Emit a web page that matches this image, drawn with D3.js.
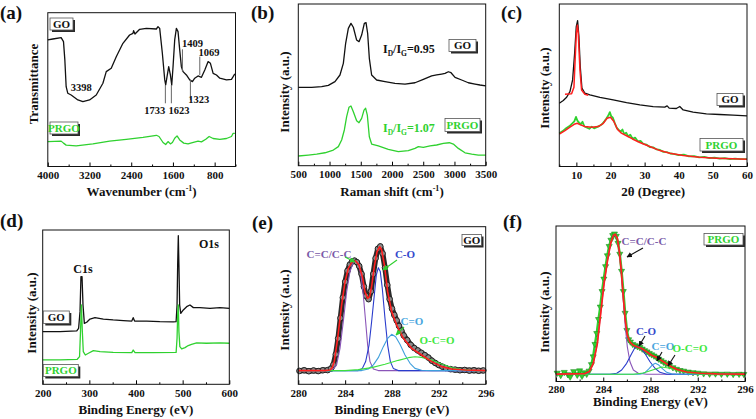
<!DOCTYPE html>
<html>
<head>
<meta charset="utf-8">
<script src="https://cdn.jsdelivr.net/npm/d3@7"></script>
<style>
  body { margin: 0; background: #fff; }
  svg text { font-family: "Liberation Serif", "Times New Roman", serif; font-weight: bold; fill: #111; }
</style>
</head>
<body>
<svg width="756" height="419"></svg>
<script>
// ---------- data (y is relative intensity 0-100 of each box) ----------
// (a) FTIR
const ftirGO = [[4000,82.3],[3904,82.9],[3744,83.8],[3699,81.2],[3673,69.3],[3648,51.9],[3616,47.6],[3552,46.5],[3423,43.3],[3327,42.2],[3199,43.3],[3071,46.5],[2943,54.1],[2879,61.7],[2783,63.9],[2687,71.4],[2559,80.1],[2431,85.5],[2367,86.6],[2354,88.3],[2328,86.1],[2238,89.2],[2110,89.8],[1918,89.4],[1886,90.9],[1854,89.8],[1803,73.6],[1757,56.3],[1739,53.0],[1713,58.4],[1681,64.9],[1649,59.5],[1623,53.0],[1598,64.9],[1566,82.3],[1534,89.8],[1502,87.7],[1470,75.8],[1438,64.9],[1406,61.7],[1342,59.5],[1278,56.3],[1226,55.2],[1182,57.4],[1118,58.9],[1053,58.0],[989,62.8],[925,68.2],[881,67.1],[829,60.6],[765,59.5],[701,57.4],[573,56.3],[477,56.7],[445,58.4],[413,60.2]];
const ftirPRGO = [[4000,16.2],[3744,16.5],[3699,15.2],[3648,13.9],[3456,13.4],[3135,14.7],[2815,16.5],[2495,17.7],[2174,19.0],[1918,20.3],[1867,19.5],[1790,15.6],[1739,14.3],[1694,16.2],[1649,14.7],[1610,15.6],[1566,18.4],[1521,19.9],[1470,17.3],[1393,15.2],[1310,14.7],[1226,15.6],[1118,16.5],[1053,16.0],[970,17.7],[906,19.5],[829,18.2],[701,17.7],[573,18.2],[477,19.5],[445,21.6],[413,21.6]];
// peak marks: label, line position, line top, line bottom, label position, label height
const ftirMarks = [["1733",1745,53.0,41.1,1950,36.8],["1623",1630,53.0,41.1,1483,36.8],["1323",1265,56.3,43.3,1105,43.7],["1409",1418,76.2,61.7,1226,80.1],["1069",1085,71.4,59.5,906,74.2]];
const ftirBand = ["3398",3359,51.5];

// (b) Raman
const ramanGO = [[500,48.5],[714,48.5],[874,48.9],[981,49.7],[1087,52.0],[1167,56.1],[1221,63.3],[1258,75.7],[1301,84.9],[1343,88.0],[1381,85.6],[1434,77.7],[1472,76.7],[1514,80.8],[1557,88.0],[1584,88.5],[1610,81.9],[1637,66.4],[1674,56.1],[1754,53.0],[1888,52.0],[2048,50.9],[2208,50.5],[2368,51.3],[2502,53.4],[2635,55.5],[2715,56.1],[2795,56.7],[2849,57.1],[2902,58.1],[2945,57.5],[3009,54.6],[3115,53.0],[3222,51.3],[3329,50.5],[3409,49.9],[3500,49.3]];
const ramanPRGO = [[500,6.0],[660,6.6],[794,7.2],[927,8.0],[1061,9.7],[1141,11.8],[1194,15.9],[1237,22.1],[1274,30.3],[1311,36.1],[1343,36.9],[1381,33.4],[1434,27.8],[1472,26.6],[1514,29.3],[1552,34.4],[1578,35.5],[1605,31.3],[1637,17.9],[1674,13.4],[1781,12.2],[1941,10.1],[2101,8.7],[2261,9.3],[2368,10.7],[2422,11.8],[2502,11.3],[2609,12.2],[2715,12.8],[2822,13.8],[2918,14.2],[2982,13.4],[3062,10.7],[3169,8.0],[3276,7.2],[3383,6.6],[3500,6.6]];
const ratioGO = "0.95", ratioPRGO = "1.07";

// (c) XRD
const xrdGO = [[5,38.9],[6.17,40.6],[7.15,42.6],[8.12,46.1],[8.9,53.3],[9.49,69.7],[9.97,86.1],[10.36,89.8],[10.75,79.9],[11.14,61.5],[11.63,48.2],[12.51,45.1],[13.97,44.1],[16.9,42.6],[20.8,41.0],[24.7,39.3],[28.6,37.9],[32.5,36.9],[35.9,36.5],[36.6,37.3],[37.2,35.9],[39.3,35.7],[40.3,36.9],[41.3,34.8],[44.2,33.4],[48.1,32.4],[52.0,32.0],[55.9,31.6],[60,31.1]];
const xrdGOfit = [[6.66,44.5],[8.6,44.7],[9.29,48.8],[9.68,67.6],[10.0,82],[10.3,87],[10.56,82.0],[11.05,59.4],[11.53,47.1],[12.5,44.5],[13.5,43.9]];
const xrdPRGO = [[5,20.5],[6,21.8],[7,23.5],[8,24.9],[8.8,26.5],[9.4,27.8],[9.9,30.5],[10.3,28.2],[10.8,27.0],[11.3,26.0],[11.8,27.5],[12.3,24.8],[13,24.0],[13.8,23.2],[14.5,24.5],[15.2,23.5],[16,24.2],[16.8,25.0],[17.5,26.0],[18.2,27.8],[18.8,29.5],[19.4,31.5],[19.8,33.5],[20.2,31.0],[20.7,30.0],[21.2,27.0],[21.8,24.0],[22.4,22.5],[23,21.5],[23.5,22.8],[24,20.0],[24.6,20.8],[25.2,18.5],[25.8,19.5],[26.5,17.0],[27.2,17.8],[28,15.5],[28.8,15.8],[29.6,14.0],[30.5,13.5],[31.5,12.0],[32.5,11.8],[33.5,10.5],[34.5,10.2],[35.5,9.0],[36.5,8.9],[37.5,8.0],[38.5,7.8],[40,7.0],[41.5,7.3],[43,6.2],[44.5,6.4],[46,5.6],[47.5,5.9],[49,5.2],[50.5,5.5],[52,4.8],[53.5,5.1],[55,4.6],[56.5,4.9],[58,4.5],[60,4.6]];
const xrdPRGOfit = [[5,19.9],[6.66,22.1],[8.12,24.2],[9.58,26.2],[10.27,26.6],[11.05,25.8],[12.5,24.6],[14.5,24.2],[16.4,24.6],[17.9,26.6],[19.0,29.7],[20.0,30.3],[21.0,27.7],[22.0,23.0],[23.2,20.5],[24.7,18.9],[26.6,16.8],[28.6,14.8],[31.5,12.3],[34.5,9.8],[37.4,8.2],[41.3,6.8],[46.1,5.7],[51.0,5.1],[55.9,4.7],[60,4.5]];

// (d) XPS survey
const surveyGO = [[200,34.1],[237,34.1],[273,34.6],[277,36.3],[280,47.1],[282,69.8],[284.3,69.8],[286.4,51.4],[289.3,39.5],[294.3,40.2],[301.4,42.3],[312,43.2],[330,42.3],[351,41.7],[373,41.3],[391,41.0],[394,43.2],[397,41.0],[423,41.0],[451,40.6],[480,40.4],[486,40.6],[488,51.4],[489.3,77.3],[490.7,96.3],[492,77.3],[493.6,51.4],[496,46.0],[501.4,48.2],[508.6,50.3],[515.7,51.4],[523,49.7],[537,49.7],[558.6,49.2],[580,49.7],[600,49.2]];
const surveyPRGO = [[200,15.8],[237,15.8],[274,16.2],[279,17.9],[281,34.1],[283,51.4],[285,34.1],[287,21.2],[291.4,19.0],[298,20.1],[308.6,21.8],[323,21.2],[351,20.7],[391,20.5],[394,22.2],[398,20.5],[437,20.5],[486,20.7],[488,29.8],[489.3,44.9],[490.7,51.4],[492,34.1],[494,24.4],[498,22.9],[505,23.8],[512,25.1],[519,25.9],[530,26.8],[551,26.6],[580,26.8],[600,26.6]];

// (e) C1s GO
const c1sGOdata = [[280.1,8.5],[280.5,8.9],[280.9,8.3],[281.3,8.8],[281.7,8.4],[282.1,8.9],[282.5,9.0],[282.8,10.0],[283.0,12.5],[283.2,19],[283.4,29],[283.6,42],[283.8,55],[284.0,65],[284.2,72],[284.4,76],[284.6,78],[284.8,78.5],[285.0,77.5],[285.2,75],[285.4,70],[285.6,62],[285.8,56],[286.0,54],[286.2,59],[286.4,70],[286.6,80],[286.8,86],[287.0,87.5],[287.2,83],[287.4,74],[287.6,63],[287.8,54],[288.0,48],[288.2,44],[288.4,40.5],[288.6,37],[288.8,34],[289.0,31],[289.3,28],[289.6,25],[289.9,23],[290.2,21.5],[290.5,20],[290.8,18.5],[291.1,17],[291.4,15],[291.7,13.5],[292.0,12.2],[292.3,11.2],[292.6,10.3],[293.0,9.6],[293.4,9.3],[293.8,8.9],[294.2,9.1],[294.6,8.7],[295.0,8.9],[295.4,8.6],[295.8,8.8]];
const c1sGOfit = [[280,8.7],[281.14,8.7],[282.28,8.7],[282.7,9.1],[282.9,10.6],[283.07,14.4],[283.36,29.2],[283.7,50.3],[283.99,65.1],[284.27,73.6],[284.61,77.8],[284.9,78.2],[285.18,75.7],[285.47,68.3],[285.69,58.8],[285.92,54.5],[286.09,55.6],[286.26,61.9],[286.49,74.6],[286.72,84.1],[286.95,87.3],[287.12,85.2],[287.35,75.7],[287.63,58.8],[287.97,46.1],[288.4,37.6],[288.97,29.2],[289.68,22.8],[290.53,18.6],[291.39,14.4],[292.24,11.2],[293.1,9.7],[294.24,9.1],[296,8.7]];
const c1sGOcc = [[280,8.7],[282.85,8.7],[283.27,12.3],[283.56,22.8],[283.84,39.7],[284.13,58.8],[284.41,71.5],[284.7,77.4],[284.9,78.2],[285.12,76.7],[285.35,69.3],[285.55,56.7],[285.75,39.7],[285.92,24.9],[286.12,14.4],[286.41,9.7],[286.83,8.7],[296,8.7]];
const c1sGOco = [[280,8.7],[285.12,8.7],[285.47,10.1],[285.75,14.4],[286.04,24.9],[286.26,39.7],[286.49,56.7],[286.66,69.3],[286.83,74.0],[287.0,71.5],[287.17,60.9],[287.4,41.9],[287.63,24.9],[287.86,14.4],[288.11,10.1],[288.54,8.7],[296,8.7]];
const c1sGOcdo = [[280,8.7],[285.41,8.7],[285.98,9.7],[286.41,12.3],[286.83,16.9],[287.26,23.9],[287.63,29.2],[287.97,31.7],[288.31,30.2],[288.68,25.4],[289.11,18.6],[289.54,13.3],[289.96,10.1],[290.53,8.9],[291.39,8.7],[296,8.7]];
const c1sGOoco = [[280,8.7],[283.99,8.7],[285.12,9.3],[286.26,10.6],[287.4,12.7],[288.54,15.2],[289.4,16.9],[289.96,17.5],[290.53,17.1],[291.39,15.4],[292.24,12.9],[293.1,10.6],[293.95,9.3],[295.09,8.7],[296,8.7]];

// (f) C1s PRGO
const c1sPRGOdata = [[280.1,5.5],[280.4,4.0],[280.7,6.0],[281.0,4.5],[281.2,3.0],[281.5,6.5],[281.8,4.2],[282.0,7.0],[282.2,3.5],[282.4,5.8],[282.6,4.8],[282.8,6.8],[283.0,11],[283.15,16],[283.3,24],[283.45,31],[283.6,40],[283.75,48],[283.9,58],[284.05,66],[284.2,74],[284.35,81],[284.5,87],[284.65,91],[284.8,94],[284.95,95],[285.1,93.5],[285.25,89],[285.4,82],[285.55,71],[285.7,58],[285.85,44],[286.0,33],[286.15,27],[286.3,25.5],[286.5,24],[286.7,23.2],[286.9,22.5],[287.1,22],[287.3,21],[287.5,20],[287.7,19.2],[287.9,18.2],[288.1,17.3],[288.3,16.5],[288.5,15.6],[288.7,14.5],[288.9,13.5],[289.1,12.5],[289.3,11.5],[289.6,10.2],[289.9,9.0],[290.2,8.0],[290.5,7.2],[290.8,6.8],[291.2,6.2],[291.6,5.8],[292.0,5.5],[292.5,5.1],[293.0,4.9],[293.5,5.0],[294.0,4.8],[294.5,4.9],[295.0,4.7],[295.5,4.8],[295.9,4.7]];
const c1sPRGOfit = [[280,4.7],[281.47,4.9],[282.46,5.1],[282.82,6.4],[283.16,11.7],[283.5,24.4],[283.78,43.4],[284.06,62.5],[284.35,77.3],[284.63,89.0],[284.85,93.9],[285.02,94.7],[285.19,92.2],[285.36,83.7],[285.53,71.0],[285.7,54.0],[285.87,39.2],[286.04,29.7],[286.26,25.4],[286.55,23.3],[286.89,22.2],[287.25,21.2],[287.68,19.1],[288.1,16.9],[288.52,15.5],[289.09,12.7],[289.65,10.0],[290.22,7.8],[291.06,6.1],[292.19,5.3],[293.6,4.9],[296,4.7]];
const c1sPRGOcc = [[280,4.7],[282.46,4.9],[282.82,6.4],[283.16,11.7],[283.5,24.4],[283.78,43.4],[284.06,62.5],[284.35,77.3],[284.63,89.0],[284.85,93.9],[285.02,94.7],[285.19,92.2],[285.36,83.7],[285.53,69.9],[285.7,51.9],[285.87,35.0],[286.04,22.2],[286.26,12.7],[286.55,7.4],[286.97,5.3],[287.68,4.7],[296,4.7]];
const c1sPRGOco = [[280,4.7],[284.57,4.7],[285.14,5.3],[285.56,7.4],[285.98,11.7],[286.41,18.0],[286.69,21.8],[286.89,22.7],[287.17,21.6],[287.53,18.0],[287.96,12.7],[288.38,8.5],[288.8,5.9],[289.37,4.7],[296,4.7]];
const c1sPRGOcdo = [[280,4.7],[287.11,4.7],[287.53,5.7],[287.9,8.5],[288.18,10.8],[288.41,11.7],[288.66,10.8],[289.03,8.1],[289.37,5.9],[289.79,4.9],[290.22,4.7],[296,4.7]];
const c1sPRGOoco = [[280,4.7],[286.55,4.7],[287.39,5.5],[288.24,7.6],[288.95,9.3],[289.65,8.5],[290.5,6.6],[291.34,5.3],[292.19,4.7],[296,4.7]];

// tick values
const ticksA = [4000,3200,2400,1600,800], minorA = [3600,2800,2000,1200,400];
const ticksB = [500,1000,1500,2000,2500,3000,3500], minorB = [750,1250,1750,2250,2750,3250];
const ticksC = [10,20,30,40,50,60], minorC = [5,15,25,35,45,55];
const ticksD = [200,300,400,500,600], minorD = [250,350,450,550];
const ticksE = [280,284,288,292,296], minorE = [282,286,290,294];

// ---------- drawing ----------
const svg = d3.select("svg");
const INK = "#111", GREEN = "#2fd12f", RED = "#ff1f1f";
const PURPLE = "#8a55b8", BLUE = "#2a3ccc", LBLUE = "#3f9fdc", LGREEN = "#3de03d";

const defs = svg.append("defs");
[["arrG", "#2fcf2f"], ["arrK", "#111"]].forEach(([id, c]) => {
  defs.append("marker").attr("id", id).attr("viewBox", "0 0 10 10").attr("refX", 9).attr("refY", 5)
    .attr("markerWidth", 5).attr("markerHeight", 5).attr("orient", "auto")
    .append("path").attr("d", "M0,0L10,5L0,10z").attr("fill", c);
});

function panel(p) {
  const [bx0, bx1, by0, by1] = p.box;
  const x = d3.scaleLinear().domain(p.xDomain).range([bx0, bx1]);
  const y = d3.scaleLinear().domain([0, 100]).range([by1, by0]);
  const g = svg.append("g");
  defs.append("clipPath").attr("id", "clip-" + p.key).append("rect")
    .attr("x", bx0).attr("y", by0).attr("width", bx1 - bx0).attr("height", by1 - by0);
  const plot = g.append("g").attr("clip-path", `url(#clip-${p.key})`);
  const line = d3.line().x(d => x(d[0])).y(d => y(d[1]));

  p.series.forEach(s => {
    plot.append("path").datum(s.data).attr("d", line)
      .attr("fill", "none").attr("stroke", s.color).attr("stroke-width", s.width || 1.3)
      .attr("stroke-linejoin", "round");
    if (s.marker === "circle") {
      plot.append("g").selectAll("circle").data(s.data).join("circle")
        .attr("cx", d => x(d[0])).attr("cy", d => y(d[1])).attr("r", 2.8)
        .attr("fill", "#8a8a8a").attr("stroke", "#222").attr("stroke-width", 1);
    }
    if (s.marker === "tri") {
      plot.append("g").selectAll("path").data(s.data).join("path")
        .attr("d", d3.symbol(d3.symbolTriangle, 16))
        .attr("transform", d => `translate(${x(d[0])},${y(d[1])}) rotate(180)`)
        .attr("fill", GREEN).attr("stroke", "#1f8f1f").attr("stroke-width", 0.6);
    }
  });

  g.append("g").attr("transform", `translate(0,${by1})`)
    .call(d3.axisBottom(x).tickValues(p.minor).tickSize(-2).tickFormat(""))
    .call(a => a.select(".domain").remove());
  g.append("g").attr("transform", `translate(0,${by1})`)
    .call(d3.axisBottom(x).tickValues(p.major).tickSize(-4).tickPadding(p.pad).tickFormat(d3.format("d")))
    .attr("font-size", 11)
    .call(a => a.select(".domain").remove());

  g.append("rect").attr("x", bx0).attr("y", by0).attr("width", bx1 - bx0).attr("height", by1 - by0)
    .attr("fill", "none").attr("stroke", INK).attr("stroke-width", 1);

  // x title
  const xt = g.append("text").attr("x", (bx0 + bx1) / 2 + (p.xtShift || 0)).attr("y", p.xtY)
    .attr("text-anchor", "middle").attr("font-size", 13);
  p.xTitle.forEach(part => {
    const t = xt.append("tspan").text(part[0]);
    if (part[1] === "sup") t.attr("font-size", 8).attr("dy", -5);
    if (part[1] === "back") t.attr("dy", 5);
  });
  // y title
  g.append("text").attr("transform", `translate(${p.ytX},${p.ytY}) rotate(-90)`)
    .attr("text-anchor", "middle").attr("dy", "0.35em").attr("font-size", 13).text(p.yTitle);
  // panel letter
  g.append("text").attr("x", p.letter[0]).attr("y", p.letter[1]).attr("font-size", 19).text(p.key);
  return { x, y, g };
}

function tag(x, y, w, h, label, color) {
  svg.append("rect").attr("x", x + 2).attr("y", y + 2).attr("width", w).attr("height", h).attr("fill", "#2a2a2a");
  svg.append("rect").attr("x", x).attr("y", y).attr("width", w).attr("height", h)
    .attr("fill", "#fff").attr("stroke", "#555").attr("stroke-width", 0.8);
  svg.append("text").attr("x", x + w / 2).attr("y", y + h / 2).attr("dy", "0.36em")
    .attr("text-anchor", "middle").attr("font-size", 11).style("fill", color).text(label);
}

function label(px, py, str, color, size, anchor) {
  return svg.append("text").attr("x", px).attr("y", py).attr("dy", "0.35em")
    .attr("text-anchor", anchor || "middle").attr("font-size", size || 11).style("fill", color || INK).text(str);
}

function arrow(x1, y1, x2, y2, id, color) {
  svg.append("line").attr("x1", x1).attr("y1", y1).attr("x2", x2).attr("y2", y2)
    .attr("stroke", color).attr("stroke-width", 1.1).attr("marker-end", `url(#${id})`);
}

// (a)
const pa = panel({
  key: "(a)", box: [47.8, 235.5, 12.7, 166.5], xDomain: [4000, 400], major: ticksA, minor: minorA, pad: 4.5,
  xTitle: [["Wavenumber (cm"], ["-1", "sup"], [")", "back"]], xtY: 196, yTitle: "Transmittance", ytX: 33, ytY: 84,
  letter: [0, 19],
  series: [{ data: ftirGO, color: INK }, { data: ftirPRGO, color: GREEN }]
});
ftirMarks.forEach(m => {
  svg.append("line").attr("x1", pa.x(m[1])).attr("x2", pa.x(m[1])).attr("y1", pa.y(m[2])).attr("y2", pa.y(m[3]))
    .attr("stroke", "#666").attr("stroke-width", 1);
  label(pa.x(m[4]), pa.y(m[5]), m[0], INK, 10.5);
});
label(pa.x(ftirBand[1]), pa.y(ftirBand[2]), ftirBand[0], INK, 10.5);
tag(50, 18, 23, 12, "GO", INK);
tag(50, 122, 28, 12, "PRGO", GREEN);

// (b)
panel({
  key: "(b)", box: [298.3, 485.7, 4, 165.7], xDomain: [500, 3500], major: ticksB, minor: minorB, pad: 4.5,
  xTitle: [["Raman shift (cm"], ["-1", "sup"], [")", "back"]], xtY: 196, yTitle: "Intensity (a.u.)", ytX: 284.5, ytY: 92,
  letter: [251, 19],
  series: [{ data: ramanGO, color: INK }, { data: ramanPRGO, color: GREEN }]
});
[[ratioGO, 48.5, INK], [ratioPRGO, 127.5, GREEN]].forEach(([v, yy, c]) => {
  const t = svg.append("text").attr("x", 383).attr("y", yy).attr("dy", "0.35em").attr("font-size", 12).style("fill", c);
  t.append("tspan").text("I");
  t.append("tspan").attr("font-size", 7.5).attr("dy", 3).text("D");
  t.append("tspan").attr("dy", -3).text("/I");
  t.append("tspan").attr("font-size", 7.5).attr("dy", 3).text("G");
  t.append("tspan").attr("dy", -3).text("=" + v);
});
tag(449, 39.5, 27, 12, "GO", INK);
tag(445, 118.5, 35, 13, "PRGO", GREEN);

// (c)
panel({
  key: "(c)", box: [559.3, 747, 4, 166.5], xDomain: [5, 60], major: ticksC, minor: minorC, pad: 4.5,
  xTitle: [["2θ (Degree)"]], xtY: 196, yTitle: "Intensity (a.u.)", ytX: 544, ytY: 88,
  letter: [501, 19],
  series: [{ data: xrdGO, color: INK }, { data: xrdGOfit, color: RED, width: 1.5 },
           { data: xrdPRGO, color: GREEN, width: 1.8 }, { data: xrdPRGOfit, color: RED, width: 1.5 }]
});
tag(717, 93.5, 26, 12, "GO", INK);
tag(700, 138.5, 43, 12.5, "PRGO", GREEN);

// (d)
panel({
  key: "(d)", box: [42.7, 229.3, 230, 384.3], xDomain: [200, 600], major: ticksD, minor: minorD, pad: 5,
  xTitle: [["Binding Energy (eV)"]], xtY: 414, yTitle: "Intensity (a.u.)", ytX: 31, ytY: 313,
  letter: [0, 227],
  series: [{ data: surveyGO, color: INK }, { data: surveyPRGO, color: GREEN }]
});
label(83, 268.5, "C1s", INK, 12);
label(209, 243.5, "O1s", INK, 12);
tag(43.3, 311, 26, 12.5, "GO", INK);
tag(43.3, 364.5, 35, 12, "PRGO", GREEN);

// (e)
panel({
  key: "(e)", box: [298.3, 485.7, 226.7, 384.3], xDomain: [280, 296], major: ticksE, minor: minorE, pad: 5,
  xTitle: [["Binding Energy (eV)"]], xtY: 414, yTitle: "Intensity (a.u.)", ytX: 284.5, ytY: 310,
  letter: [252, 229],
  series: [{ data: c1sGOdata, color: "#2a2a2a", width: 5.5, marker: "circle" },
           { data: c1sGOcc, color: PURPLE, width: 1.1 }, { data: c1sGOco, color: BLUE, width: 1.1 },
           { data: c1sGOcdo, color: LBLUE, width: 1.1 }, { data: c1sGOoco, color: LGREEN, width: 1.1 },
           { data: c1sGOfit, color: RED, width: 1.6 }]
});
label(329, 254.5, "C=C/C-C", "#7a5aa8", 11);
label(405, 254.5, "C-O", "#3448cc", 11);
label(412, 321, "C=O", "#4aa6de", 11);
label(437, 340, "O-C=O", "#3fe83f", 11);
arrow(345, 257, 355, 262, "arrG", "#2fcf2f");
arrow(397, 260, 383, 270, "arrG", "#2fcf2f");
arrow(404, 327, 396, 335, "arrG", "#2fcf2f");
tag(462, 234.5, 19.5, 11, "GO", INK);

// (f)
panel({
  key: "(f)", box: [556, 745, 226, 381.5], xDomain: [280, 296], major: ticksE, minor: minorE, pad: 4,
  xTitle: [["Binding Energy (eV)"]], xtY: 406, yTitle: "Intensity (a.u.)", ytX: 544, ytY: 312,
  letter: [503, 228],
  series: [{ data: c1sPRGOdata, color: GREEN, width: 2.5, marker: "tri" },
           { data: c1sPRGOcc, color: PURPLE, width: 1.1 }, { data: c1sPRGOco, color: BLUE, width: 1.1 },
           { data: c1sPRGOcdo, color: LBLUE, width: 1.1 }, { data: c1sPRGOoco, color: LGREEN, width: 1.1 },
           { data: c1sPRGOfit, color: RED, width: 1.7 }]
});
label(644, 241, "C=C/C-C", "#7a5aa8", 11);
label(646, 331, "C-O", "#3448cc", 11);
label(663, 346, "C=O", "#4aa6de", 11);
label(690, 348.5, "O-C=O", "#3fe83f", 11);
arrow(643, 248, 627, 257, "arrK", INK);
arrow(645, 336, 639, 346, "arrK", INK);
arrow(662, 352, 657, 361, "arrK", INK);
arrow(675, 355, 668, 366, "arrK", INK);
tag(704, 233.5, 39, 11.5, "PRGO", GREEN);
</script>
</body>
</html>
